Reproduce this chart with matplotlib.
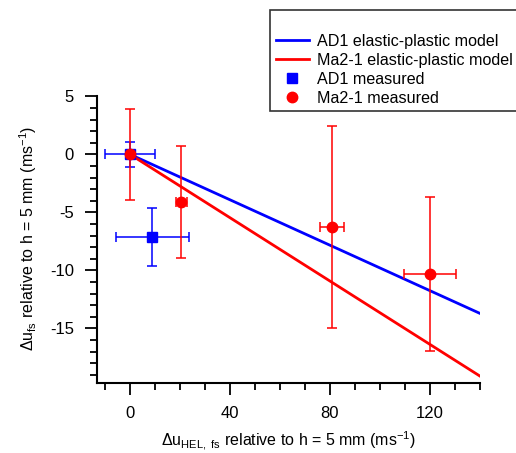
import matplotlib.pyplot as plt
import numpy as np

plt.rcParams['font.family'] = ['Liberation Sans', 'DejaVu Sans']
plt.rcParams['mathtext.fontset'] = 'custom'
plt.rcParams['mathtext.rm'] = 'Liberation Sans'
plt.rcParams['mathtext.it'] = 'Liberation Sans'
plt.rcParams['axes.unicode_minus'] = False

# model lines (end points of the straight fits)
model_x = [0, 140]
ad1_model_y = [0, -13.7]
ma2_model_y = [0, -19.1]

# measured points
ad1_x = [0, 9]
ad1_y = [0, -7.15]
ad1_xerr = [10.2, 14.6]
ad1_yerr = [1.1, 2.5]

ma2_x = [0, 20.5, 81, 120]
ma2_y = [0, -4.1, -6.25, -10.3]
ma2_xerr = [0, 2.2, 4.8, 10.5]
ma2_yerr = [3.9, 4.8, 8.7, 6.6]

blue = '#0000ff'
red = '#ff0000'

fig = plt.figure(figsize=(5.16, 4.53), dpi=100)
ax = fig.add_axes([0.188, 0.1545, 0.742, 0.638])

l1, = ax.plot(model_x, ad1_model_y, color=blue, lw=2, label='AD1 elastic-plastic model')
l2, = ax.plot(model_x, ma2_model_y, color=red, lw=2, label='Ma2-1 elastic-plastic model')

e1 = ax.errorbar(ad1_x, ad1_y, xerr=ad1_xerr, yerr=ad1_yerr, fmt='s', color=blue,
                 ms=6.5, elinewidth=1.1, capsize=3.6, capthick=1.1, label='AD1 measured')
e2 = ax.errorbar(ma2_x, ma2_y, xerr=ma2_xerr, yerr=ma2_yerr, fmt='o', color=red,
                 ms=7.5, elinewidth=1.1, capsize=3.6, capthick=1.1, label='Ma2-1 measured')

ax.set_xlim(-13.2, 140)
ax.set_ylim(-19.7, 5.2)
ax.set_xticks([0, 40, 80, 120])
ax.set_xticks(np.arange(-10, 141, 10), minor=True)
ax.set_yticks([5, 0, -5, -10, -15])
ax.set_yticks(np.arange(-19, 6, 1), minor=True)

for s in ['top', 'right']:
    ax.spines[s].set_visible(False)
for s in ['left', 'bottom']:
    ax.spines[s].set_linewidth(1.5)
ax.spines['left'].set_bounds(-19.7, 5)

ax.tick_params(which='major', direction='out', length=8.5, width=1.3, labelsize=12, pad=8)
ax.tick_params(which='minor', direction='out', length=5, width=1.3)

ax.set_xlabel(r'$\Delta$u$_{\mathrm{HEL,\ fs}}$ relative to h = 5 mm (ms$^{-1}$)', fontsize=11.5, labelpad=6)
ax.set_ylabel(r'$\Delta$u$_{\mathrm{fs}}$ relative to h = 5 mm (ms$^{-1}$)', fontsize=11.5, labelpad=8)

leg = fig.legend(handles=[l1, l2, e1[0], e2[0]],
                 labels=['AD1 elastic-plastic model', 'Ma2-1 elastic-plastic model',
                         'AD1 measured', 'Ma2-1 measured'],
                 loc='upper left', bbox_to_anchor=(0.523, 0.978), title=' ',
                 fontsize=11.6, title_fontsize=12, frameon=True, fancybox=False,
                 edgecolor='black', borderpad=0.35, labelspacing=0.22, handlelength=2.1,
                 handletextpad=0.45, borderaxespad=0, handleheight=0.9)
leg.get_frame().set_linewidth(1.2)

fig.savefig('out.png', dpi=100)
